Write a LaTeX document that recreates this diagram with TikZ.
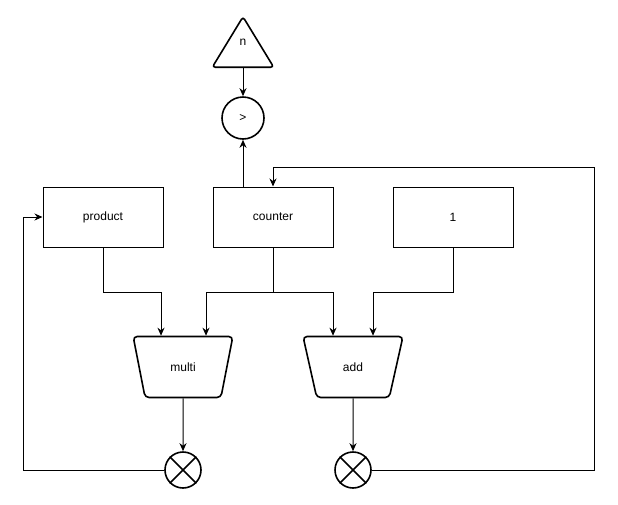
\documentclass[tikz,border=0pt]{standalone}
\usepackage{fontspec}
\setmainfont{Liberation Sans}
\usetikzlibrary{shapes.geometric,arrows.meta}
\tikzset{
  box/.style={draw, line width=1pt, minimum width=120pt, minimum height=60pt},
  unit/.style={draw, line width=1.6pt, trapezium, shape border rotate=180,
    trapezium angle=72, trapezium stretches=true,
    minimum width=100pt, minimum height=61pt, rounded corners=4pt},
  op/.style={draw, circle, line width=1.6pt, minimum size=#1, inner sep=0pt},
  wire/.style={line width=1pt, -{Stealth[length=8pt,width=7pt]}},
}

\begin{document}
\begin{tikzpicture}[x=1pt, y=-1pt, font=\fontsize{12pt}{14pt}\selectfont]
  \useasboundingbox (0,0) rectangle (618,504);

  \node[box] at (103,217) (product) {product};
  \node[box] at (273,217) (counter) {counter};
  \node[box] at (453,217) (one) {1};

  \node[minimum width=61pt, minimum height=50pt] at (243,42) (n) {n};
  \draw[line width=1.6pt, rounded corners=3pt]
    (n.south west) -- (n.north) -- (n.south east) -- cycle;
  \node[op=42pt] at (243,118) (gt) {>};

  \node[unit] at (183,367) (multi) {multi};
  \node[unit] at (353,367) (add) {add};

  \node[op=36pt] at (183,470) (mx) {};
  \node[op=36pt] at (353,470) (ax) {};
  \draw[line width=1.6pt] (mx.north east) -- (mx.south west) (mx.north west) -- (mx.south east);
  \draw[line width=1.6pt] (ax.north east) -- (ax.south west) (ax.north west) -- (ax.south east);

  \draw[wire] (n) -- (gt);
  \draw[wire] (counter.north -| gt) -- (gt);

  \coordinate (split) at (273,292);
  \draw[wire] (product.south) -- ++(0,45) -| ([xshift=-22pt]multi.north);
  \draw[wire] (counter) -- (split) -| ([xshift=23pt]multi.north);
  \draw[wire] (split) -| ([xshift=-20pt]add.north);
  \draw[wire] (one.south) -- ++(0,45) -| ([xshift=20pt]add.north);

  \draw[wire] (multi) -- (mx);
  \draw[wire] (add) -- (ax);

  \coordinate (fbL) at (23,470);
  \draw[wire] (mx) -- (fbL) |- (product);
  \coordinate (fbR) at (594,167);
  \draw[wire] (ax) -- (ax -| fbR) -- (fbR) -| (counter);
\end{tikzpicture}
\end{document}
